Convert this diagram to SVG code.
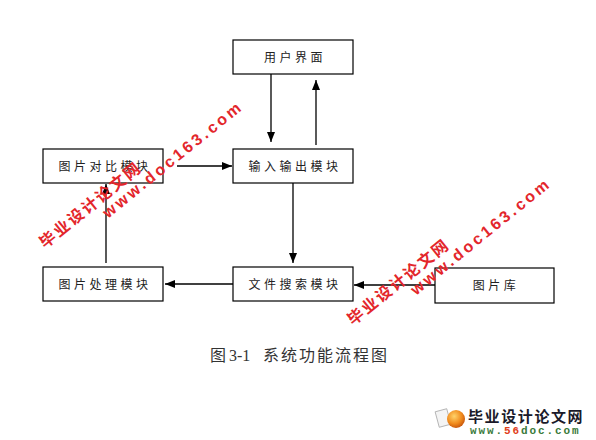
<svg xmlns="http://www.w3.org/2000/svg" width="596" height="440" viewBox="0 0 596 440">
<defs>
<style>
.box{fill:#fff;stroke:#000;stroke-width:1.2}
.lbl{font-family:"Noto Sans CJK SC",sans-serif;font-size:12px;fill:#222;text-anchor:middle;letter-spacing:3.5px}
.ln{stroke:#000;stroke-width:1.3;fill:none;marker-end:url(#ah)}
.wm{font-family:"Liberation Sans","Noto Sans CJK SC",sans-serif;font-weight:bold;fill:#e3262b}
.cap{font-family:"Liberation Serif","Noto Sans CJK SC",serif;font-size:16px;fill:#333}
</style>
<marker id="ah" markerUnits="userSpaceOnUse" markerWidth="10" markerHeight="8" refX="10" refY="4" orient="auto">
<path d="M0,0 L10,4 L0,8 Z" fill="#000"/>
</marker>
<radialGradient id="ball" cx="0.4" cy="0.35" r="0.7">
<stop offset="0" stop-color="#ffd36a"/>
<stop offset="0.6" stop-color="#f08a1c"/>
<stop offset="1" stop-color="#c2500c"/>
</radialGradient>
</defs>
<rect width="596" height="440" fill="#fff"/>
<g id="connectors">
<line class="ln" x1="271" y1="74" x2="271" y2="142"/>
<line class="ln" x1="316" y1="145" x2="316" y2="80"/>
<line class="ln" x1="177" y1="166" x2="232" y2="166"/>
<line class="ln" x1="293" y1="183" x2="293" y2="263"/>
<line class="ln" x1="233" y1="284" x2="165" y2="284"/>
<line class="ln" x1="435" y1="285" x2="354" y2="285"/>
<line class="ln" x1="106" y1="263" x2="106" y2="184"/>
</g>
<g id="n_ui"><rect class="box" x="233" y="40" width="120" height="34"/><text class="lbl" x="295" y="62">用户界面</text></g>
<g id="n_compare"><rect class="box" x="43" y="149" width="120" height="34"/><text class="lbl" x="105" y="171">图片对比模块</text></g>
<g id="n_io"><rect class="box" x="233" y="149" width="120" height="34"/><text class="lbl" x="295" y="171">输入输出模块</text></g>
<g id="n_process"><rect class="box" x="43" y="267" width="120" height="34"/><text class="lbl" x="105" y="289">图片处理模块</text></g>
<g id="n_search"><rect class="box" x="233" y="267" width="120" height="34"/><text class="lbl" x="295" y="289">文件搜索模块</text></g>
<g id="n_lib"><rect class="box" x="435" y="268" width="119" height="35"/><text class="lbl" x="496" y="290">图片库</text></g>
<g id="caption">
<text class="cap" x="210" y="361">图</text>
<text class="cap" x="229" y="361">3-1</text>
<text class="cap" x="263" y="361" style="letter-spacing:2px">系统功能流程图</text>
</g>
<g id="watermarks">
<g transform="translate(45,249) rotate(-39)">
<text class="wm" x="0" y="0" font-size="16" letter-spacing="2">毕业设计论文网</text>
<text class="wm" x="68" y="16" font-size="16" letter-spacing="3">www.doc163.com</text>
</g>
<g transform="translate(353,326) rotate(-39)">
<text class="wm" x="0" y="0" font-size="16" letter-spacing="2">毕业设计论文网</text>
<text class="wm" x="68" y="16" font-size="16" letter-spacing="3">www.doc163.com</text>
</g>
</g>
<g id="logo">
<rect x="437" y="410" width="12" height="16" fill="#f4f4f4" stroke="#aaa" stroke-width="0.8" transform="rotate(-15 443 418)"/>
<circle cx="456" cy="419" r="9" fill="url(#ball)"/>
<text x="468" y="422" font-family="Noto Sans CJK SC,sans-serif" font-weight="bold" font-size="15" letter-spacing="1.6" fill="#1a1a2a">毕业设计论文网</text>
<text x="470" y="434" font-family="Liberation Mono,monospace" font-weight="bold" font-size="11" letter-spacing="1.9" fill="#3a7a3a">www.<tspan fill="#e0401c">56</tspan>doc.com</text>
</g>
</svg>
